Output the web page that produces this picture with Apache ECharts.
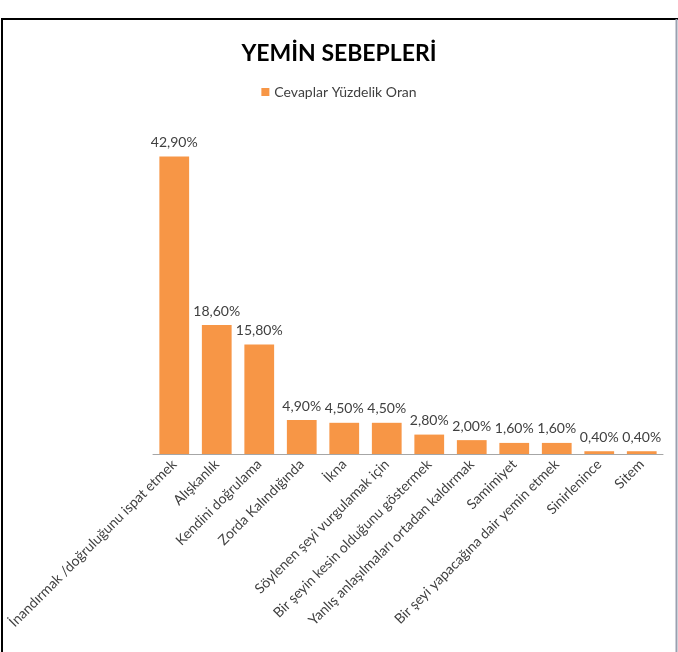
<!DOCTYPE html>
<html>
<head>
<meta charset="utf-8">
<script src="https://cdn.jsdelivr.net/npm/echarts@6/dist/echarts.min.js"></script>
<style>
  html, body { margin: 0; padding: 0; background: #fff; }
  #chart { width: 678px; height: 652px; }
</style>
</head>
<body>
<div id="chart"></div>
<script>
// kategoriler
var categories = [
  'İnandırmak /doğruluğunu ispat etmek',
  'Alışkanlık',
  'Kendini doğrulama',
  'Zorda Kalındığında',
  'İkna',
  'Söylenen şeyi vurgulamak için',
  'Bir şeyin kesin olduğunu göstermek',
  'Yanlış anlaşılmaları ortadan kaldırmak',
  'Samimiyet',
  'Bir şeyi yapacağına dair yemin etmek',
  'Sinirlenince',
  'Sitem'
];
// yüzdelik değerler
var values = [42.9, 18.6, 15.8, 4.9, 4.5, 4.5, 2.8, 2.0, 1.6, 1.6, 0.4, 0.4];
var seriesName = 'Cevaplar Yüzdelik Oran';

var font = 'Lato, "Open Sans", sans-serif';
var myChart = echarts.init(document.getElementById('chart'));

var option = {
  animation: false,
  title: {
    text: 'YEMİN SEBEPLERİ',
    left: 'center',
    top: 37,
    textStyle: { fontFamily: font, fontSize: 23, fontWeight: 'bold', color: '#000' }
  },
  legend: {
    data: [seriesName],
    top: 80,
    left: 'center',
    itemWidth: 8,
    itemHeight: 8,
    itemGap: 5,
    icon: 'rect',
    textStyle: { fontFamily: font, fontSize: 14, color: '#404040' }
  },
  grid: { left: 153, right: 15, top: 142, bottom: 198, containLabel: false },
  xAxis: {
    type: 'category',
    data: categories,
    axisLine: { lineStyle: { color: '#a6a6a6', width: 1 } },
    axisTick: { show: false },
    axisLabel: {
      interval: 0,
      rotate: 45,
      margin: 8,
      fontFamily: font,
      fontSize: 14,
      color: '#404040'
    }
  },
  yAxis: {
    type: 'value',
    min: 0,
    max: 45,
    show: false,
    splitLine: { show: false }
  },
  series: [{
    name: seriesName,
    type: 'bar',
    data: values,
    barCategoryGap: '30%',
    itemStyle: { color: '#F79646' },
    label: {
      show: true,
      position: 'top',
      distance: 7,
      fontFamily: font,
      fontSize: 14,
      color: '#404040',
      formatter: function (p) { return p.value.toFixed(2).replace('.', ',') + '%'; }
    }
  }],
  graphic: [
    { type: 'line', shape: { x1: 1, y1: 19, x2: 678, y2: 19 }, style: { stroke: '#000', lineWidth: 2 } },
    { type: 'line', shape: { x1: 2, y1: 19, x2: 2, y2: 652 }, style: { stroke: '#000', lineWidth: 2 } },
    { type: 'line', shape: { x1: 676.5, y1: 19, x2: 676.5, y2: 652 }, style: { stroke: '#9aa0b0', lineWidth: 2 } }
  ]
};

myChart.setOption(option);
</script>
</body>
</html>
